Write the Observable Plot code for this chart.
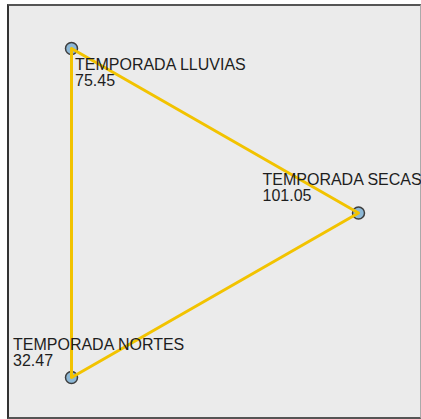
<!DOCTYPE html>
<html>
<head>
<meta charset="utf-8">
<script src="https://cdn.jsdelivr.net/npm/d3@7"></script>
<script src="https://cdn.jsdelivr.net/npm/@observablehq/plot@0.6"></script>
<style>
  html, body { margin: 0; padding: 0; background: #fff; }
  #wrap { position: relative; width: 421px; height: 419px; }
  #box { position: absolute; left: 7px; top: 4px; width: 411px; height: 411px;
         background: #ebebeb; border-top: 2px solid #555; border-left: 2px solid #333;
         border-bottom: 2px solid #555; border-right: 1px solid #aaa; }
  #chart { position: absolute; left: 0; top: 0; }
</style>
</head>
<body>
<div id="wrap"><div id="box"></div><div id="chart"></div></div>
<script>
// Nodes (network layout positions) and their values
const names = ["TEMPORADA LLUVIAS", "TEMPORADA SECAS", "TEMPORADA NORTES"];
const values = [75.45, 101.05, 32.47];
const layoutX = [0, 1, 0];
const layoutY = [1, 0.5, 0];
// Edges closing the triangle
const pathOrder = [0, 1, 2, 0];
// Label offsets (px) relative to each node
const labelDx = [3.5, -96, -58.5];
const labelDy = [10.6, -39.4, -38.4];

const nodes = names.map((n, i) => ({name: n, value: values[i], x: layoutX[i], y: layoutY[i], i}));
const edgePath = pathOrder.map(i => nodes[i]);

const chart = Plot.plot({
  width: 421,
  height: 419,
  marginLeft: 71,
  marginRight: 63,
  marginTop: 48,
  marginBottom: 42,
  x: {domain: [0, 1], axis: null},
  y: {domain: [0, 1], axis: null},
  style: {background: "transparent", fontFamily: "'Liberation Sans', Arial, sans-serif"},
  marks: [
    Plot.dot(nodes, {x: "x", y: "y", r: 6, fill: "#8db8d6", stroke: "#3d3d3d", strokeWidth: 1.5}),
    Plot.line(edgePath, {x: "x", y: "y", stroke: "#f2c300", strokeWidth: 3, curve: "linear"}),
    ...nodes.map((d, i) => Plot.text([d], {
      x: "x", y: "y",
      text: d => `${d.name}\n${d.value.toFixed(2)}`,
      textAnchor: "start", lineAnchor: "top", lineHeight: 1,
      fontSize: 16, fill: "#1e1e1e",
      dx: labelDx[i], dy: labelDy[i]
    }))
  ]
});
document.getElementById("chart").appendChild(chart);
</script>
</body>
</html>
